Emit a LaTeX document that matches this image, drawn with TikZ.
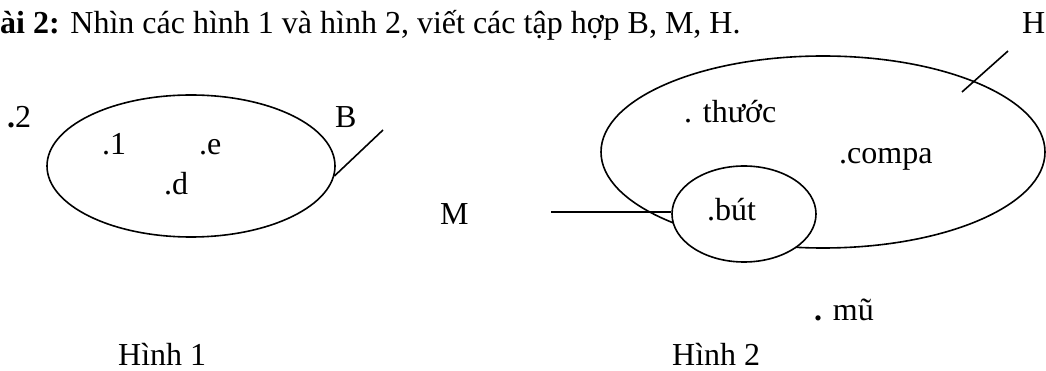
\documentclass[tikz,border=0pt]{standalone}
\usepackage{fontspec}
\setmainfont{Liberation Serif}
\usetikzlibrary{shapes.geometric}
\begin{document}
\begin{tikzpicture}[x=1pt,y=-1pt,
  txt/.style={inner sep=0pt,anchor=base west,font=\fontsize{32}{37}\selectfont},
  setline/.style={line width=1.6pt},
  setshape/.style={draw,ellipse,setline,inner sep=0pt}]
\useasboundingbox (0,0) rectangle (1046,371);

% heading
\node[txt] (title) at (0,34) {\textbf{ài 2:} Nhìn các hình 1 và hình 2, viết các tập hợp B, M, H.};
\node[txt] (labH) at (1022,34) {H};

% figure 1: the set B
\node[setshape,minimum width=288pt,minimum height=142pt] (setB) at (191,166) {};
\node[txt] (two) at (7,128) {\textbf{.}2};
\node[txt] (one) at (102,155) {.1};
\node[txt] (ee) at (199,155) {.e};
\node[txt] (dd) at (164,195) {.d};
\node[txt] (labB) at (335,128) {B};
\coordinate (bTip) at (383,130);
\draw[setline] (setB.-4) -- (bTip);
\node[txt] (cap1) at (118,365) {Hình 1};

% figure 2: the sets H and M
\node[setshape,minimum width=444pt,minimum height=192pt] (setH) at (823,152) {};
\node[setshape,fill=white,minimum width=144pt,minimum height=96pt] (setM) at (744,214) {};
\node[txt] (ruler) at (684,123) {. thước};
\node[txt] (compass) at (839,164) {.compa};
\node[txt] (pen) at (707,221) {.bút};
\node[txt] (hat) at (814,320) {\textbf{.} mũ};
\node[txt] (labM) at (440,225) {M};
\coordinate (mTip) at (551,212);
\draw[setline] (mTip) -- (setM.west |- mTip);
\coordinate (hIn) at (962,92);
\coordinate (hTip) at (1008,51);
\draw[setline] (hIn) -- (hTip);
\node[txt] (cap2) at (672,365) {Hình 2};
\end{tikzpicture}
\end{document}
